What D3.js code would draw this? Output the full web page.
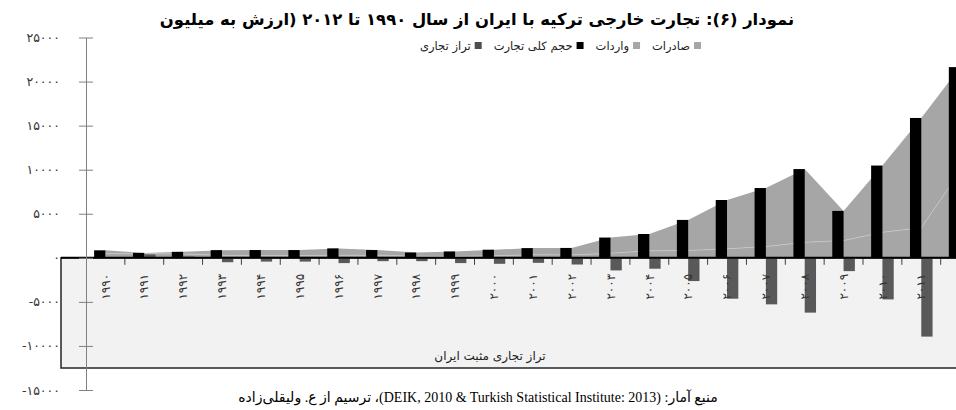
<!DOCTYPE html>
<html>
<head>
<meta charset="utf-8">
<script src="https://cdn.jsdelivr.net/npm/d3@7"></script>
<style>
  body { margin: 0; background: #fff; }
  svg { display: block; }
</style>
</head>
<body>
<div id="chart"></div>
<script>
// data (million USD)
const years = [1990, 1991, 1992, 1993, 1994, 1995, 1996, 1997, 1998, 1999, 2000, 2001,
               2002, 2003, 2004, 2005, 2006, 2007, 2008, 2009, 2010, 2011, 2012]
const yearLabels = ["۱۹۹۰", "۱۹۹۱", "۱۹۹۲", "۱۹۹۳", "۱۹۹۴", "۱۹۹۵", "۱۹۹۶", "۱۹۹۷", "۱۹۹۸", "۱۹۹۹", "۲۰۰۰", "۲۰۰۱",
                    "۲۰۰۲", "۲۰۰۳", "۲۰۰۴", "۲۰۰۵", "۲۰۰۶", "۲۰۰۷", "۲۰۰۸", "۲۰۰۹", "۲۰۱۰", "۲۰۱۱", "۲۰۱۲"]
const exportsVals = [480, 470, 440, 280, 260, 260, 290, 300, 190, 150, 230, 350,
                     330, 520, 790, 830, 1020, 1280, 1760, 1960, 2900, 3400, 9820]
const importsVals = [370, 90, 240, 590, 620, 620, 780, 580, 410, 570, 690, 750,
                     790, 1780, 1910, 3470, 5540, 6640, 8310, 3360, 7570, 12470, 11820]
const totalVals = [850, 560, 680, 870, 880, 880, 1070, 880, 600, 720, 920, 1100,
                   1120, 2300, 2700, 4300, 6560, 7920, 10070, 5320, 10470, 15870, 21640]
const balanceVals = [0, 380, 150, -500, -430, -430, -600, -380, -380, -600, -680, -570,
                     -760, -1430, -1240, -2640, -4640, -5280, -6220, -1510, -4720, -8940, -2050]

const yTicks = [25000, 20000, 15000, 10000, 5000, 0, -5000, -10000, -15000]
const yTickLabels = ["۲۵۰۰۰", "۲۰۰۰۰", "۱۵۰۰۰", "۱۰۰۰۰", "۵۰۰۰", "۰", "-۵۰۰۰", "-۱۰۰۰۰", "-۱۵۰۰۰"]

const legendNames = ["صادرات", "واردات", "حجم کلی تجارت", "تراز تجاری"]
const legendColors = ["#a6a6a6", "#a6a6a6", "#000000", "#4d4d4d"]

const titleText = "نمودار (۶): تجارت خارجی ترکیه با ایران از سال ۱۹۹۰ تا ۲۰۱۲ (ارزش به میلیون"
const boxLabel = "تراز تجاری مثبت ایران"
const sourceText = "منبع آمار: (DEIK, 2010 & Turkish Statistical Institute: 2013)، ترسیم از ع. ولیقلی‌زاده"

// const
const width = 956
const height = 410
const barW = 11.3
const fa = "'DejaVu Sans', sans-serif"

const svg = d3.select("#chart")
  .append("svg")
    .attr("width", width)
    .attr("height", height)

// scales
const x = d3.scaleBand()
  .domain(years)
  .range([86, 86 + 38.85 * years.length])
  .padding(0)

const y = d3.scaleLinear()
  .domain([-15000, 25000])
  .range([390, 37.5])

const cx = d => x(d) + x.bandwidth() / 2

// negative panel
svg.append("rect")
  .attr("x", 61)
  .attr("y", y(0))
  .attr("width", width)
  .attr("height", 368 - y(0))
  .attr("fill", "#f2f2f2")
  .attr("stroke", "#262626")
  .attr("stroke-width", 1.5)

svg.append("text")
  .attr("x", 490)
  .attr("y", 360)
  .attr("text-anchor", "middle")
  .attr("font-family", fa)
  .attr("font-size", 12)
  .attr("fill", "#222")
  .text(boxLabel)

// stacked areas (exports + imports)
const table = years.map((yr, i) => ({ year: yr, exports: exportsVals[i], imports: importsVals[i] }))
const series = d3.stack().keys(["exports", "imports"])(table)

const area = d3.area()
  .x(d => cx(d.data.year))
  .y0(d => y(d[0]))
  .y1(d => y(d[1]))

svg.append("g")
  .selectAll("path")
  .data(series)
  .join("path")
    .attr("d", area)
    .attr("fill", "#a6a6a6")

svg.append("path")
  .datum(series[0])
  .attr("fill", "none")
  .attr("stroke", "#c8c8c8")
  .attr("stroke-width", 0.7)
  .attr("d", d3.line().x(d => cx(d.data.year)).y(d => y(d[1])))

// bars
svg.append("g")
  .selectAll("rect")
  .data(years)
  .join("rect")
    .attr("x", d => cx(d) - barW)
    .attr("width", barW)
    .attr("y", (d, i) => y(totalVals[i]))
    .attr("height", (d, i) => y(0) - y(totalVals[i]))
    .attr("fill", "#000")

svg.append("g")
  .selectAll("rect")
  .data(years)
  .join("rect")
    .attr("x", d => cx(d))
    .attr("width", barW)
    .attr("y", (d, i) => y(Math.max(0, balanceVals[i])))
    .attr("height", (d, i) => Math.abs(y(balanceVals[i]) - y(0)))
    .attr("fill", "#595959")

// x axis
const xAxis = d3.axisBottom(x)
  .tickSize(0)
  .tickFormat((d, i) => yearLabels[i])

const xAxisGroup = svg.append("g")
  .attr("id", "xAxisGroup")
  .attr("transform", `translate(0, ${y(0)})`)
  .call(xAxis)

xAxisGroup.select(".domain").remove()
xAxisGroup.selectAll(".tick text")
  .attr("font-family", fa)
  .attr("font-size", 12)
  .attr("fill", "#333")
  .attr("text-anchor", "end")
  .attr("dy", "0.35em")
  .attr("y", 0)
  .attr("transform", "translate(0, 16) rotate(-90)")

// boundary ticks between categories
xAxisGroup.selectAll(".btick")
  .data(years.slice(1))
  .join("line")
    .attr("class", "btick")
    .attr("x1", d => x(d))
    .attr("x2", d => x(d))
    .attr("y1", 0)
    .attr("y2", 7)
    .attr("stroke", "#404040")

svg.append("line")
  .attr("x1", 61)
  .attr("x2", width)
  .attr("y1", y(0))
  .attr("y2", y(0))
  .attr("stroke", "#000")
  .attr("stroke-width", 2)

// y axis
const yAxis = d3.axisLeft(y)
  .tickValues(yTicks)
  .tickFormat((d, i) => yTickLabels[i])
  .tickSizeOuter(0)

const yAxisGroup = svg.append("g")
  .attr("id", "yAxisGroup")
  .attr("transform", "translate(86, 0)")
  .call(yAxis)

yAxisGroup.select(".domain").attr("stroke", "#808080")
yAxisGroup.selectAll(".tick line")
  .attr("x1", -7)
  .attr("x2", 7)
  .attr("stroke", "#808080")
yAxisGroup.selectAll(".tick text")
  .attr("x", -26)
  .attr("font-family", fa)
  .attr("font-size", 12.5)
  .attr("fill", "#333")

// legend, laid out right to left: square then label
const legend = svg.append("g")
let lx = 701
legendNames.forEach((name, i) => {
  legend.append("rect")
    .attr("x", lx - 7)
    .attr("y", 42)
    .attr("width", 7)
    .attr("height", 7)
    .attr("fill", legendColors[i])
  const t = legend.append("text")
    .attr("x", lx - 11)
    .attr("y", 49.5)
    .attr("text-anchor", "end")
    .attr("font-family", fa)
    .attr("font-size", 11.5)
    .attr("fill", "#222")
    .text(name)
  lx = lx - 11 - t.node().getComputedTextLength() - 12
})

// title
const title = svg.append("text")
  .attr("x", 477)
  .attr("y", 25)
  .attr("text-anchor", "middle")
  .attr("direction", "rtl")
  .attr("font-family", fa)
  .attr("font-weight", "bold")
  .attr("font-size", 18)
  .text(titleText)
const tw = title.node().getComputedTextLength()
title.attr("font-size", 18 * 635 / tw)

// source
const src = svg.append("text")
  .attr("x", 478)
  .attr("y", 402)
  .attr("text-anchor", "middle")
  .attr("direction", "rtl")
  .attr("font-family", "'Liberation Serif', 'DejaVu Sans', serif")
  .attr("font-size", 14)
  .text(sourceText)
</script>
</body>
</html>
